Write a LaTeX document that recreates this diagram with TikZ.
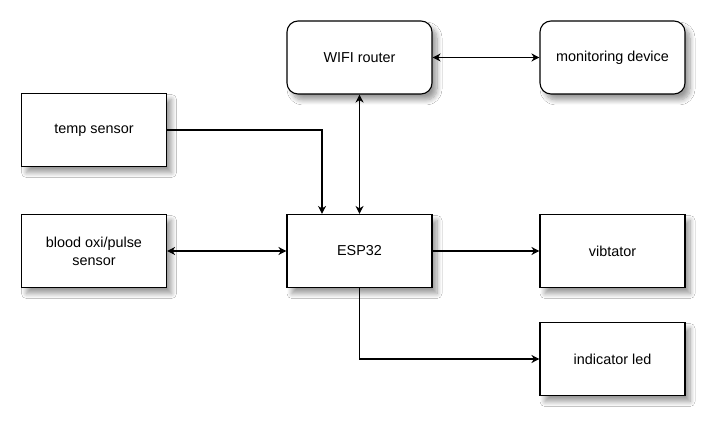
\documentclass[tikz,border=0pt]{standalone}
\usepackage{fontspec}
\setmainfont{Liberation Sans}
\usetikzlibrary{arrows.meta,shadows.blur}
\tikzset{
  box/.style={draw=black, line width=1.1pt, fill=white, minimum width=145pt, minimum height=73pt,
    inner sep=0pt, align=center, font=\fontsize{14.4}{18}\selectfont,
    blur shadow={shadow xshift=5pt, shadow yshift=-6pt, shadow blur radius=5pt, shadow blur steps=10, shadow opacity=40}},
  rbox/.style={box, rounded corners=11pt},
  conn/.style={line width=1.1pt, draw=black},
  tip/.style={-{Stealth[length=8pt,width=8pt,inset=2.5pt]}},
  tips/.style={{Stealth[length=8pt,width=8pt,inset=2.5pt]}-{Stealth[length=8pt,width=8pt,inset=2.5pt]}}
}
\begin{document}
\begin{tikzpicture}[x=1pt,y=-1pt]
\useasboundingbox (0,0) rectangle (728,438);
\fill[white] (0,0) rectangle (728,438);
\node[rbox] (wifi) at (359.5,57.5) {WIFI router};
\node[rbox] (mon) at (612.5,57.5) {monitoring device};
\node[box] (temp) at (94,130) {temp sensor};
\node[box] (blood) at (94,251) {blood oxi/pulse\\sensor};
\node[box] (esp) at (359.5,251) {ESP32};
\node[box] (vib) at (612.5,251) {vibtator};
\node[box] (led) at (612.5,359) {indicator led};
\draw[conn,tip] (temp.east) -| ([xshift=-37.5pt]esp.north);
\draw[conn,tips] (wifi.south) -- (esp.north);
\draw[conn,tips] (blood.east) -- (esp.west);
\draw[conn,tips] (wifi.east) -- (mon.west);
\draw[conn,tip] (esp.east) -- (vib.west);
\draw[conn,tip] (esp.south) |- (led.west);
\end{tikzpicture}
\end{document}
